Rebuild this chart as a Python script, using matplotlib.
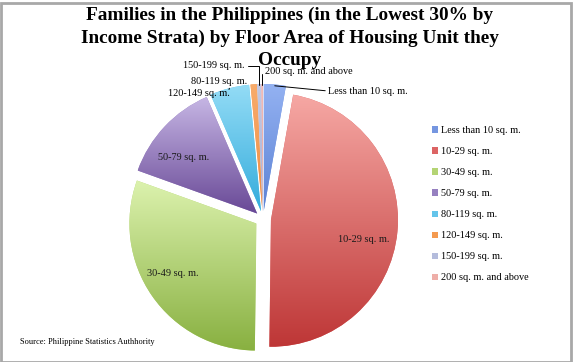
import numpy as np
import matplotlib
matplotlib.use("Agg")
import matplotlib.pyplot as plt
from matplotlib.colors import LinearSegmentedColormap
from matplotlib.patches import Rectangle

# data (share of families, %)
categories = ["Less than 10 sq. m.", "10-29 sq. m.", "30-49 sq. m.", "50-79 sq. m.",
              "80-119 sq. m.", "120-149 sq. m.", "150-199 sq. m.", "200 sq. m. and above"]
shares = [2.8, 47.4, 30.3, 13.0, 5.0, 0.8, 0.5, 0.2]

# gradient colours per slice (top, bottom)
top_colors = ["#94b2f2", "#f6a8a4", "#dcf2ae", "#c6b6e4", "#94dcf6", "#f8ac6c", "#c4cae4", "#f4bcb8"]
bot_colors = ["#5c82d4", "#be3636", "#88b040", "#684896", "#34acdc", "#ee8c40", "#a8b0d4", "#e8a098"]
mid_colors = ["#7596e0", "#dc6464", "#b4d474", "#9680c0", "#64c4ea", "#f49a50", "#b4bcdc", "#eeaea8"]

W, H = 573, 362
fig = plt.figure(figsize=(W / 100, H / 100), dpi=100, facecolor="white")
ax = fig.add_axes([0, 0, 1, 1])
ax.set_xlim(0, W)
ax.set_ylim(0, H)
ax.axis("off")

Y = lambda y: H - y  # image row -> data y

serif = ["Liberation Serif", "DejaVu Serif"]
cx, cy, R = 263, Y(219), 127

wedges, _ = ax.pie(shares, center=(cx, cy), radius=R, startangle=90, counterclock=False,
                   explode=[8] * len(shares), colors=mid_colors,
                   wedgeprops=dict(linewidth=0))
ax.set_aspect("equal")

# vertical gradient inside each wedge
for w, c0, c1 in zip(wedges, top_colors, bot_colors):
    ext = w.get_path().get_extents()
    cmap = LinearSegmentedColormap.from_list("g", [c1, c0])
    grad = np.linspace(0, 1, 256).reshape(-1, 1)
    im = ax.imshow(grad, cmap=cmap, origin="lower", aspect="auto",
                   extent=[ext.x0, ext.x1, ext.y0, ext.y1], zorder=2)
    im.set_clip_path(w)

ax.set_xlim(0, W)
ax.set_ylim(0, H)

def edge_point(w, frac=1.0):
    t = np.deg2rad((w.theta1 + w.theta2) / 2)
    return (w.center[0] + frac * w.r * np.cos(t), w.center[1] + frac * w.r * np.sin(t))

fs = 7.4
# inside labels
for i, (x, y) in {1: (364, 240), 2: (173, 274), 3: (184, 158)}.items():
    ax.text(x, Y(y), categories[i], fontsize=fs, family=serif, ha="center", va="center",
            color="#1a1a1a", zorder=5)

# outside labels with leader lines
lp = dict(arrowstyle="-", color="black", lw=0.7, shrinkA=0, shrinkB=0)
ax.annotate(categories[0], xy=edge_point(wedges[0], 0.99), xytext=(328, Y(91)),
            fontsize=fs, family=serif, ha="left", va="center", zorder=5,
            arrowprops=dict(lp, relpos=(0, 0.5)))
ax.annotate(categories[7], xy=edge_point(wedges[7], 0.99), xytext=(265, Y(72)),
            fontsize=fs, family=serif, ha="left", va="center", zorder=5,
            arrowprops=dict(lp, connectionstyle="angle,angleA=0,angleB=90,rad=0", relpos=(0, 0.3)))
ax.annotate(categories[6], xy=edge_point(wedges[6], 0.99), xytext=(245, Y(66)),
            fontsize=fs, family=serif, ha="right", va="center", zorder=5,
            arrowprops=dict(lp, connectionstyle="angle,angleA=0,angleB=90,rad=0", relpos=(1, 0.5)))
ax.annotate(categories[4], xy=(229, edge_point(wedges[4], 0.99)[1]), xytext=(219, Y(81)),
            fontsize=fs, family=serif, ha="center", va="center", zorder=5,
            arrowprops=dict(lp, relpos=(0.7, 0)))
ax.text(230, Y(94), categories[5], fontsize=fs, family=serif, ha="right", va="center", zorder=5)

# legend
leg = ax.legend(wedges, categories, loc="upper left", bbox_to_anchor=(427 / W, 1 - 121 / H),
                frameon=False, prop=dict(family=serif, size=fs), handlelength=0.55,
                handleheight=0.55, handletextpad=0.3, labelspacing=1.17, borderpad=0)

# title
title = ["Families in the Philippines (in the Lowest 30% by",
         "Income Strata) by Floor Area of Housing Unit they",
         "Occupy"]
for line, base in zip(title, [20, 42.5, 65]):
    ax.text(289.5, Y(base), line, fontsize=13.9, fontweight="bold", family=serif,
            ha="center", va="baseline", zorder=6)

ax.text(20, Y(342), "Source: Philippine Statistics Authhority", fontsize=6, family=serif,
        ha="left", va="center")

# outer frame
fig.patches.append(Rectangle((0.5 / W, 0.5 / H), 1 - 3 / W, 1 - 3 / H, transform=fig.transFigure,
                             fill=False, edgecolor="#a8a8a8", linewidth=2))

fig.savefig("out.png", dpi=100, facecolor="white")
